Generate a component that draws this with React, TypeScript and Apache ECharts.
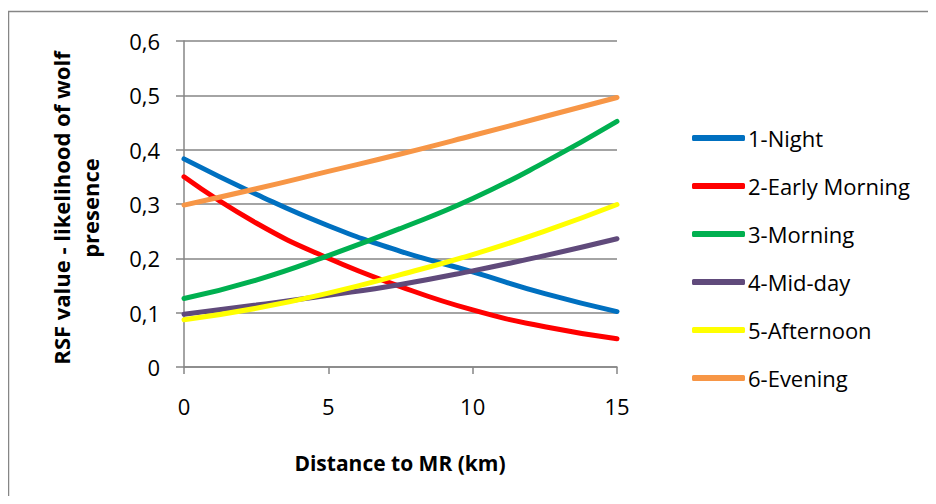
import React, { useEffect, useRef } from "react";
import * as echarts from "echarts";

const distances = [0, 2.5, 5, 7.5, 10, 12.5, 15];
const seriesNames = ["1-Night", "2-Early Morning", "3-Morning", "4-Mid-day", "5-Afternoon", "6-Evening"];
const night = [0.383, 0.318, 0.26, 0.213, 0.175, 0.135, 0.102];
const earlyMorning = [0.35, 0.265, 0.2, 0.148, 0.105, 0.074, 0.052];
const morning = [0.126, 0.16, 0.205, 0.255, 0.31, 0.377, 0.452];
const midDay = [0.097, 0.114, 0.132, 0.152, 0.177, 0.205, 0.236];
const afternoon = [0.087, 0.108, 0.136, 0.17, 0.207, 0.25, 0.299];
const evening = [0.298, 0.328, 0.36, 0.392, 0.426, 0.461, 0.496];
const seriesColors = ["#0070C0", "#FF0000", "#00B050", "#604A7B", "#FFFF00", "#F79646"];

const FONT = "'Open Sans', 'Noto Sans', sans-serif";

export default function App() {
  const ref = useRef<HTMLDivElement>(null);
  useEffect(() => {
    if (!ref.current) return;
    const chart = echarts.init(ref.current, undefined, { renderer: "svg" });
    const all = [night, earlyMorning, morning, midDay, afternoon, evening];
    chart.setOption({
      animation: false,
      backgroundColor: "#ffffff",
      grid: { left: 176, right: 311, top: 33, bottom: 129, containLabel: false },
      legend: {
        orient: "vertical",
        left: 679,
        top: 114,
        icon: "roundRect",
        itemWidth: 53,
        itemHeight: 6,
        itemGap: 26,
        textStyle: { fontFamily: FONT, fontSize: 22, color: "#000", padding: [0, 0, 0, -2] },
        data: seriesNames,
      },
      xAxis: {
        type: "value",
        min: 0,
        max: 15,
        interval: 5,
        axisLine: { show: true, lineStyle: { color: "#868686", width: 1.5 } },
        axisTick: { show: true, length: 7, lineStyle: { color: "#868686", width: 1.5 } },
        splitLine: { show: false },
        axisLabel: { fontFamily: FONT, fontSize: 22, color: "#000", margin: 28 },
      },
      yAxis: {
        type: "value",
        min: 0,
        max: 0.6,
        interval: 0.1,
        axisLine: { show: true, lineStyle: { color: "#868686", width: 1.5 } },
        axisTick: { show: true, length: 8, lineStyle: { color: "#868686", width: 1.5 } },
        splitLine: { show: true, lineStyle: { color: "#868686", width: 1.5 } },
        axisLabel: {
          fontFamily: FONT,
          fontSize: 22,
          color: "#000",
          margin: 24,
          formatter: (v: number) => (Math.round(v * 10) / 10).toString().replace(".", ","),
        },
      },
      graphic: [
        {
          type: "rect",
          shape: { x: 0.5, y: 3.5, width: 1000, height: 600 },
          style: { fill: "none", stroke: "#868686", lineWidth: 1.5 },
          silent: true,
        },
        {
          type: "text",
          x: 67,
          y: 200,
          rotation: Math.PI / 2,
          style: {
            text: "RSF value - likelihood of wolf\npresence",
            fontFamily: FONT,
            fontWeight: "bold",
            fontSize: 22,
            lineHeight: 29,
            fill: "#000",
            align: "center",
            verticalAlign: "middle",
          },
        },
        {
          type: "text",
          x: 392,
          y: 455,
          style: {
            text: "Distance to MR (km)",
            fontFamily: FONT,
            fontWeight: "bold",
            fontSize: 21,
            fill: "#000",
            align: "center",
            verticalAlign: "middle",
          },
        },
      ],
      series: all.map((vals, i) => ({
        name: seriesNames[i],
        type: "line",
        smooth: true,
        symbol: "none",
        color: seriesColors[i],
        lineStyle: { width: 5, color: seriesColors[i], cap: "round" },
        data: distances.map((d, j) => [d, vals[j]]),
      })),
    });
    return () => chart.dispose();
  }, []);
  return <div ref={ref} style={{ width: 920, height: 488 }} />;
}
